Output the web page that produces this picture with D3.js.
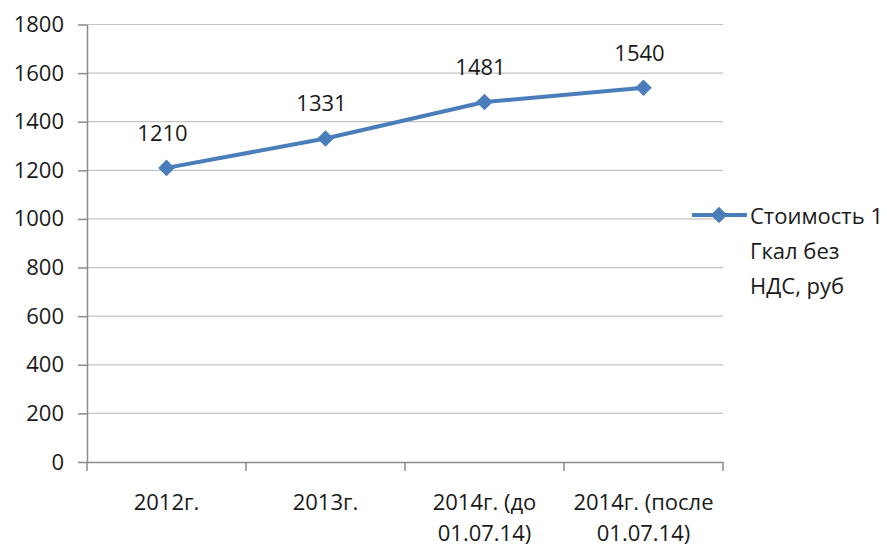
<!DOCTYPE html>
<html>
<head>
<meta charset="utf-8">
<script src="https://cdn.jsdelivr.net/npm/d3@7"></script>
<style>
  body { margin: 0; background: #fff; }
  svg text { font-family: "Open Sans", sans-serif; fill: #1a1a1a; }
</style>
</head>
<body>
<svg id="chart"></svg>
<script>
// chart values
const categories = ['2012г.', '2013г.', '2014г. (до\n01.07.14)', '2014г. (после\n01.07.14)'];
const values = [1210, 1331, 1481, 1540];
const yTicks = [0, 200, 400, 600, 800, 1000, 1200, 1400, 1600, 1800];
const seriesName = ['Стоимость 1', 'Гкал без', 'НДС, руб'];

const width = 887, height = 547;
const margin = {top: 24.5, right: 164, bottom: 85, left: 87};
const lineColor = '#4a7ebb';
const fontSize = 22;

const svg = d3.select('#chart')
    .attr('width', width)
    .attr('height', height);

// scales
const x = d3.scaleBand()
    .domain(categories)
    .range([margin.left, width - margin.right]);
const y = d3.scaleLinear()
    .domain([0, 1800])
    .range([height - margin.bottom, margin.top]);

// grid lines
svg.append('g')
    .selectAll('line')
    .data(yTicks.filter(d => d > 0))
    .enter()
    .append('line')
    .attr('x1', margin.left)
    .attr('x2', width - margin.right)
    .attr('y1', d => y(d))
    .attr('y2', d => y(d))
    .attr('stroke', '#c4c4c4')
    .attr('stroke-width', 1.2);

// Y axis
const yAxis = svg.append('g')
    .attr('transform', `translate(${margin.left},0)`)
    .call(d3.axisLeft(y).tickValues(yTicks).tickFormat(d3.format('d'))
        .tickSize(9).tickPadding(14).tickSizeOuter(0));
yAxis.attr('font-family', null);
yAxis.select('.domain').attr('stroke', '#8a8a8a').attr('stroke-width', 1.5);
yAxis.selectAll('.tick line').attr('stroke', '#8a8a8a').attr('stroke-width', 1.5);
yAxis.selectAll('text')
    .style('font-size', fontSize + 'px')
    .attr('fill', '#1a1a1a');

// X axis
const xAxis = svg.append('g')
    .attr('transform', `translate(0,${y(0)})`)
    .call(d3.axisBottom(x).tickSize(0).tickPadding(0).tickSizeOuter(0));
xAxis.attr('font-family', null);
xAxis.select('.domain').attr('stroke', '#8a8a8a').attr('stroke-width', 1.5);
xAxis.selectAll('.tick text').each(function(d) {
    const t = d3.select(this);
    t.text(null).attr('dy', null).attr('y', 0)
        .style('font-size', fontSize + 'px')
        .attr('fill', '#1a1a1a');
    d.split('\n').forEach((line, i) => {
        t.append('tspan')
            .attr('x', 0)
            .attr('y', 48 + i * 31)
            .text(line);
    });
});

// boundary ticks between categories
const bounds = categories.map(c => x(c)).concat([x.range()[1]]);
xAxis.selectAll('.bound')
    .data(bounds)
    .enter()
    .append('line')
    .attr('x1', d => d)
    .attr('x2', d => d)
    .attr('y1', 0)
    .attr('y2', 9)
    .attr('stroke', '#8a8a8a')
    .attr('stroke-width', 1.5);

const cx = d => x(d) + x.bandwidth() / 2;

// line
const line = d3.line()
    .x((d, i) => cx(categories[i]))
    .y(d => y(d));
svg.append('path')
    .datum(values)
    .attr('d', line)
    .attr('fill', 'none')
    .attr('stroke', lineColor)
    .attr('stroke-width', 4)
    .attr('stroke-linejoin', 'round');

// diamond markers
const diamond = d3.symbol().type(d3.symbolDiamond2).size(175);
svg.append('g')
    .selectAll('path')
    .data(values)
    .enter()
    .append('path')
    .attr('d', diamond)
    .attr('transform', (d, i) => `translate(${cx(categories[i])},${y(d)})`)
    .attr('fill', lineColor);

// data labels
svg.append('g')
    .selectAll('text')
    .data(values)
    .enter()
    .append('text')
    .attr('x', (d, i) => cx(categories[i]) - 4)
    .attr('y', d => y(d) - 27)
    .attr('text-anchor', 'middle')
    .style('font-size', fontSize + 'px')
    .text(d => d);

// legend
const legend = svg.append('g').attr('transform', `translate(692,215)`);
legend.append('line')
    .attr('x1', 0).attr('x2', 55)
    .attr('y1', 0).attr('y2', 0)
    .attr('stroke', lineColor)
    .attr('stroke-width', 4);
legend.append('path')
    .attr('d', diamond)
    .attr('transform', 'translate(27,0)')
    .attr('fill', lineColor);
legend.append('text')
    .selectAll('tspan')
    .data(seriesName)
    .enter()
    .append('tspan')
    .attr('x', 58)
    .attr('y', (d, i) => 9 + i * 35)
    .style('font-size', fontSize + 'px')
    .text(d => d);
</script>
</body>
</html>
